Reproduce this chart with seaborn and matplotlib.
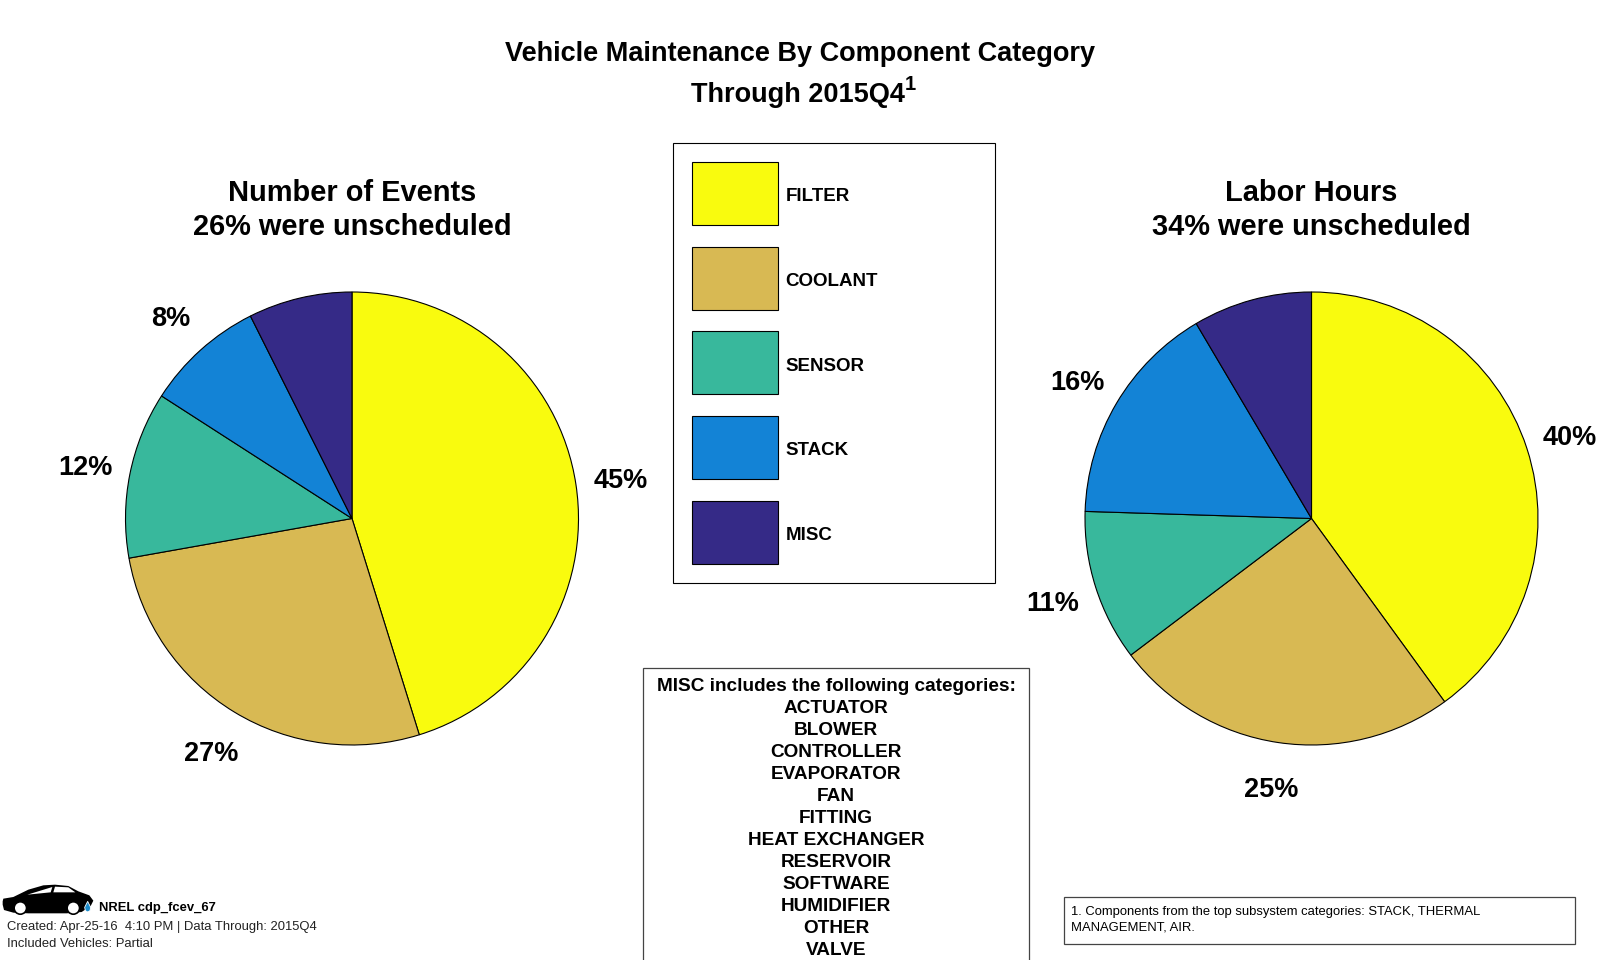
# -*- coding: utf-8 -*-

import matplotlib
matplotlib.use('Agg')
import matplotlib.pyplot as plt
from matplotlib.patches import Circle, Patch, Polygon, Rectangle
import seaborn as sns

categories = ['FILTER', 'COOLANT', 'SENSOR', 'STACK', 'MISC']
colors = ['#F9FB0E', '#D8B953', '#38B89C', '#1383D6', '#352A87']

events = [45.2, 27.0, 11.9, 8.5, 7.4]
events_labels = ['45%', '27%', '12%', '8%', '']
hours = [40.0, 24.7, 10.8, 16.0, 8.5]
hours_labels = ['40%', '25%', '11%', '16%', '']

misc_lines = ['MISC includes the following categories:', 'ACTUATOR', 'BLOWER', 'CONTROLLER',
              'EVAPORATOR', 'FAN', 'FITTING', 'HEAT EXCHANGER', 'RESERVOIR', 'SOFTWARE',
              'HUMIDIFIER', 'OTHER', 'VALVE']

W, H = 1600, 960
R = 226.5
PAD = 1.25

sns.set_theme(style='white')
plt.rcParams['font.family'] = ['Liberation Sans', 'DejaVu Sans']
palette = sns.color_palette(colors)

fig = plt.figure(figsize=(16, 9.6), dpi=100, facecolor='white')


def pie_axes(cx, cy):
    half = R * PAD
    return fig.add_axes([(cx - half) / W, 1 - (cy + half) / H, 2 * half / W, 2 * half / H])


def draw_pie(ax, values, labels):
    _, texts = ax.pie(values, labels=labels, colors=palette, startangle=90, counterclock=False,
                      labeldistance=1.2, wedgeprops={'edgecolor': 'black', 'linewidth': 0.8},
                      textprops={'fontsize': 19.5, 'fontweight': 'bold', 'color': 'black'})
    for t in texts:
        x, y = t.get_position()
        t.set_position((x, y - 3 / R))
        t.set_ha('center')
        t.set_va('center')
    ax.set_xlim(-PAD, PAD)
    ax.set_ylim(-PAD, PAD)


draw_pie(pie_axes(352, 518.5), events, events_labels)
draw_pie(pie_axes(1311.5, 518.5), hours, hours_labels)

# overlay in pixel coordinates for the text and boxes
ov = fig.add_axes([0, 0, 1, 1], facecolor='none')
ov.set_xlim(0, W)
ov.set_ylim(H, 0)
ov.axis('off')

ov.text(800, 61, 'Vehicle Maintenance By Component Category', ha='center', va='baseline',
        fontsize=19.5, fontweight='bold', color='black')
ov.text(691, 102, 'Through 2015Q4', ha='left', va='baseline', fontsize=19.5, fontweight='bold', color='black')
ov.text(905, 90, '1', ha='left', va='baseline', fontsize=14.5, fontweight='bold', color='black')

for cx, name, pct in [(352, 'Number of Events', '26%'), (1311.5, 'Labor Hours', '34%')]:
    ov.text(cx, 201, name, ha='center', va='baseline', fontsize=20.9, fontweight='bold', color='black')
    ov.text(cx, 235, pct + ' were unscheduled', ha='center', va='baseline', fontsize=20.9,
            fontweight='bold', color='black')

handles = [Patch(facecolor=c, edgecolor='black', linewidth=0.8, label=n) for c, n in zip(palette, categories)]
fs = 13.5
em = fs * 100 / 72
leg = fig.legend(handles=handles, loc='upper left',
                 bbox_to_anchor=(673 / W, 1 - 585 / H, 322 / W, 442 / H),
                 mode='expand', ncols=1, borderaxespad=0, borderpad=1.03, frameon=True, fancybox=False,
                 edgecolor='black', framealpha=1, handlelength=86 / em, handleheight=4.79,
                 handletextpad=7 / em, labelspacing=21.6 / em, labelcolor='black',
                 prop={'size': fs, 'weight': 'bold'})
leg.get_frame().set_linewidth(0.8)
for t in leg.get_texts():
    t.set_y(-3)

ov.add_patch(Rectangle((643, 668), 386, 320, facecolor='white', edgecolor='#444444', linewidth=0.9))
for i, line in enumerate(misc_lines):
    ov.text(836, 691 + i * 22, line, ha='center', va='baseline', fontsize=13.7, fontweight='bold', color='black')

ov.add_patch(Rectangle((1064, 897), 511, 47, facecolor='white', edgecolor='#444444', linewidth=0.9))
ov.text(1071, 915, '1. Components from the top subsystem categories: STACK, THERMAL', ha='left', va='baseline',
        fontsize=9.4, color='black')
ov.text(1071, 931, 'MANAGEMENT, AIR.', ha='left', va='baseline', fontsize=9.4, color='black')

# car logo
body = [(8, 70), (10, 62), (40, 57), (85, 35), (130, 22), (165, 20), (205, 24), (235, 40), (268, 52), (280, 68),
        (272, 84), (245, 102), (200, 106), (85, 106), (40, 104), (12, 96), (8, 80)]
ov.add_patch(Polygon([(x / 3, 878 + y / 3) for x, y in body], facecolor='black', edgecolor='none'))
for win in [[(82, 50), (157, 27), (152, 43)], [(160, 43), (165, 26), (205, 28), (226, 43)]]:
    ov.add_patch(Polygon([(x / 3, 878 + y / 3) for x, y in win], facecolor='white', edgecolor='none'))
for wx in [61, 220]:
    ov.add_patch(Circle((wx / 3, 878 + 90 / 3), 6.2, facecolor='white', edgecolor='black', linewidth=1.2))
drop = [(263, 70), (272, 88), (270, 98), (263, 102), (256, 98), (254, 88)]
ov.add_patch(Polygon([(x / 3, 878 + y / 3) for x, y in drop], facecolor='#1C8CCB', edgecolor='white', linewidth=0.6))

ov.text(99, 911, 'NREL cdp_fcev_67', ha='left', va='baseline', fontsize=9.4, fontweight='bold', color='black')
ov.text(7, 930, 'Created: Apr-25-16  4:10 PM | Data Through: 2015Q4', ha='left', va='baseline', fontsize=9.4,
        color='#222222')
ov.text(7, 947, 'Included Vehicles: Partial', ha='left', va='baseline', fontsize=9.4, color='#222222')

fig.savefig('out.png', dpi=100)
